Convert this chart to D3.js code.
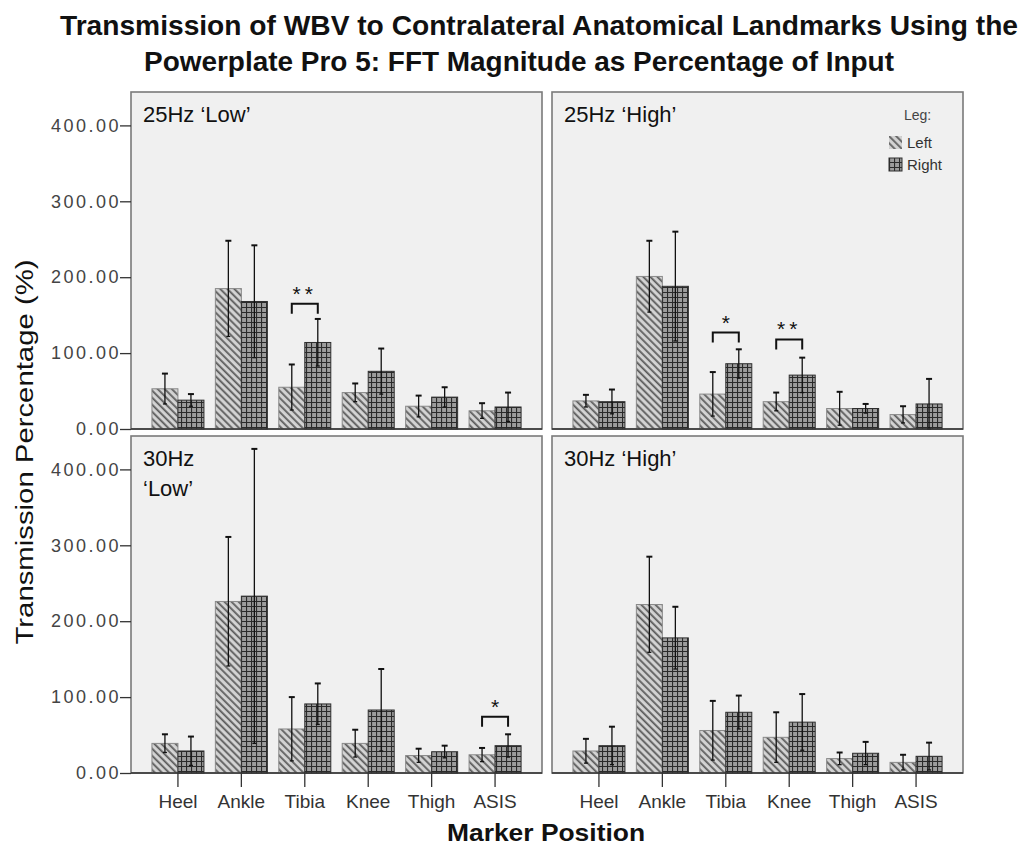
<!DOCTYPE html>
<html>
<head>
<meta charset="utf-8">
<script src="https://cdn.jsdelivr.net/npm/d3@7"></script>
<style>
  body { margin: 0; background: #fff; }
  text { font-family: Arial, "Liberation Sans", sans-serif; }
</style>
</head>
<body>
<svg id="chart" width="1031" height="848"></svg>
<script>

// ---- data ----
const markers = ["Heel", "Ankle", "Tibia", "Knee", "Thigh", "ASIS"];
const panelNames = ["25Hz \u2018Low\u2019", "25Hz \u2018High\u2019", "30Hz\n\u2018Low\u2019", "30Hz \u2018High\u2019"];
const yTicks = [0, 100, 200, 300, 400];

const low25Left      = [53, 185, 55, 48, 30, 24];
const low25LeftErr   = [20, 63, 30, 12, 14, 10];
const low25Right     = [38, 168, 114, 76, 42, 29];
const low25RightErr  = [8, 74, 31, 30, 13, 19];

const high25Left     = [37, 201, 46, 36, 27, 19];
const high25LeftErr  = [8, 47, 29, 12, 22, 11];
const high25Right    = [36, 188, 86, 71, 27, 33];
const high25RightErr = [16, 72, 19, 23, 6, 33];

const low30Left      = [39, 226, 58, 39, 23, 24];
const low30LeftErr   = [12, 85, 42, 18, 9, 9];
const low30Right     = [29, 233, 91, 83, 28, 36];
const low30RightErr  = [19, 194, 27, 54, 8, 15];

const high30Left     = [29, 222, 56, 47, 19, 14];
const high30LeftErr  = [16, 63, 39, 33, 8, 10];
const high30Right    = [36, 178, 80, 67, 26, 22];
const high30RightErr = [25, 41, 22, 37, 15, 18];

// significance brackets
const sigPanel  = [0, 1, 1, 2];
const sigMarker = ["Tibia", "Tibia", "Knee", "ASIS"];
const sigLabel  = ["**", "*", "**", "*"];
const sigLevel  = [165, 127, 118, 74];

const panelData = [
  {left: low25Left,  leftErr: low25LeftErr,  right: low25Right,  rightErr: low25RightErr},
  {left: high25Left, leftErr: high25LeftErr, right: high25Right, rightErr: high25RightErr},
  {left: low30Left,  leftErr: low30LeftErr,  right: low30Right,  rightErr: low30RightErr},
  {left: high30Left, leftErr: high30LeftErr, right: high30Right, rightErr: high30RightErr}
];

// ---- layout ----
const svg = d3.select("#chart");
const colX = [131, 552];
const rowY = [92, 436];
const pw = 411, ph = 337;
const yMax = 444;

const defs = svg.append("defs");

// left leg: diagonal hatch
const pl = defs.append("pattern")
    .attr("id", "hatchLeft")
    .attr("patternUnits", "userSpaceOnUse")
    .attr("width", 5).attr("height", 5)
    .attr("patternTransform", "rotate(45)");
pl.append("rect").attr("width", 5).attr("height", 5).attr("fill", "#d4d4d4");
pl.append("line").attr("x1", 0).attr("x2", 5).attr("y1", 1.2).attr("y2", 1.2)
    .attr("stroke", "#5a5a5a").attr("stroke-width", 1.8);

// right leg: cross hatch
const pr = defs.append("pattern")
    .attr("id", "hatchRight")
    .attr("patternUnits", "userSpaceOnUse")
    .attr("width", 5).attr("height", 5);
pr.append("rect").attr("width", 5).attr("height", 5).attr("fill", "#9c9c9c");
pr.append("path").attr("d", "M0,0.5H5M0.5,0V5")
    .attr("stroke", "#2a2a2a").attr("stroke-width", 1.2);

// title
svg.append("text")
    .attr("x", 60).attr("y", 35)
    .attr("font-size", 27).attr("font-weight", "bold").attr("fill", "#111")
    .attr("textLength", 958).attr("lengthAdjust", "spacingAndGlyphs")
    .text("Transmission of WBV to Contralateral Anatomical Landmarks Using the");
svg.append("text")
    .attr("x", 144).attr("y", 71)
    .attr("font-size", 27).attr("font-weight", "bold").attr("fill", "#111")
    .attr("textLength", 750).attr("lengthAdjust", "spacingAndGlyphs")
    .text("Powerplate Pro 5: FFT Magnitude as Percentage of Input");

// axis titles
svg.append("text")
    .attr("transform", "translate(33,452) rotate(-90)")
    .attr("text-anchor", "middle")
    .attr("font-size", 23).attr("fill", "#111")
    .attr("textLength", 385).attr("lengthAdjust", "spacingAndGlyphs")
    .text("Transmission Percentage (%)");

svg.append("text")
    .attr("x", 546).attr("y", 841)
    .attr("text-anchor", "middle")
    .attr("font-size", 23).attr("font-weight", "bold").attr("fill", "#111")
    .attr("textLength", 198).attr("lengthAdjust", "spacingAndGlyphs")
    .text("Marker Position");

const x = d3.scaleBand().domain(markers).range([0, pw]).paddingInner(0.18).paddingOuter(0.33);
const xs = d3.scaleBand().domain(["Left", "Right"]).range([0, x.bandwidth()]);
const y = d3.scaleLinear().domain([0, yMax]).range([ph, 0]);

panelData.forEach((pd, p) => {
  const col = p % 2, row = Math.floor(p / 2);
  const g = svg.append("g").attr("transform", `translate(${colX[col]},${rowY[row]})`);

  g.append("rect")
    .attr("width", pw).attr("height", ph)
    .attr("fill", "#f0f0f0").attr("stroke", "#7a7a7a").attr("stroke-width", 1.6);

  // panel label
  const lines = panelNames[p].split("\n");
  lines.forEach((t, i) => {
    g.append("text")
      .attr("x", 12).attr("y", 30 + i * 30)
      .attr("font-size", 22).attr("fill", "#111")
      .text(t);
  });

  // bars
  const rows = markers.map((m, i) => [
    {m, side: "Left", v: pd.left[i], e: pd.leftErr[i]},
    {m, side: "Right", v: pd.right[i], e: pd.rightErr[i]}
  ]).flat();

  g.selectAll(".bar")
    .data(rows)
    .enter()
    .append("rect")
    .attr("class", "bar")
    .attr("x", d => x(d.m) + xs(d.side))
    .attr("width", xs.bandwidth())
    .attr("y", d => y(d.v))
    .attr("height", d => ph - y(d.v))
    .attr("fill", d => d.side == "Left" ? "url(#hatchLeft)" : "url(#hatchRight)")
    .attr("stroke", d => d.side == "Left" ? "#8a8a8a" : "#2e2e2e")
    .attr("stroke-width", 1);

  // error bars
  const eb = g.selectAll(".err")
    .data(rows)
    .enter()
    .append("g")
    .attr("class", "err")
    .attr("transform", d => `translate(${x(d.m) + xs(d.side) + xs.bandwidth() / 2},0)`)
    .attr("stroke", "#111").attr("stroke-width", 1.3);
  eb.append("line")
    .attr("y1", d => y(d.v + d.e)).attr("y2", d => y(Math.max(0, d.v - d.e)));
  eb.append("line")
    .attr("x1", -3).attr("x2", 3)
    .attr("y1", d => y(d.v + d.e)).attr("y2", d => y(d.v + d.e)).attr("stroke-width", 2);
  eb.append("line")
    .attr("x1", -2).attr("x2", 2)
    .attr("y1", d => y(Math.max(0, d.v - d.e))).attr("y2", d => y(Math.max(0, d.v - d.e)));

  // bottom axis line
  g.append("line").attr("x1", 0).attr("x2", pw).attr("y1", ph).attr("y2", ph)
    .attr("stroke", "#333").attr("stroke-width", 1.6);

  // y axis on left column
  if (col == 0) {
    const ya = g.append("g")
      .call(d3.axisLeft(y).tickValues(yTicks).tickFormat(d3.format(".2f")).tickSize(11).tickPadding(2));
    ya.select(".domain").remove();
    ya.selectAll("line").attr("stroke", "#333").attr("stroke-width", 1.3);
    ya.selectAll("text")
      .attr("font-size", 18).attr("fill", "#444")
      .attr("letter-spacing", "2.5px").attr("dx", 3)
      .style("font-family", "Arial, 'Liberation Sans', sans-serif");
  }

  // x axis on bottom row
  if (row == 1) {
    const xa = g.append("g")
      .attr("transform", `translate(0,${ph})`)
      .call(d3.axisBottom(x).tickSize(14).tickPadding(8));
    xa.select(".domain").remove();
    xa.selectAll("line").attr("stroke", "#333").attr("stroke-width", 1.3);
    xa.selectAll("text")
      .attr("font-size", 19).attr("fill", "#333")
      .style("font-family", "Arial, 'Liberation Sans', sans-serif");
  }

  // significance brackets
  sigPanel.forEach((sp, k) => {
    if (sp != p) return;
    const xl = x(sigMarker[k]) + xs("Left") + xs.bandwidth() / 2;
    const xr = x(sigMarker[k]) + xs("Right") + xs.bandwidth() / 2;
    const yb = y(sigLevel[k]);
    g.append("path")
      .attr("d", `M${xl},${yb + 10}V${yb}H${xr}V${yb + 10}`)
      .attr("fill", "none").attr("stroke", "#111").attr("stroke-width", 2);
    g.append("text")
      .attr("x", (xl + xr) / 2).attr("y", yb - 3)
      .attr("text-anchor", "middle")
      .attr("font-size", 21).attr("fill", "#111")
      .attr("letter-spacing", sigLabel[k].length > 1 ? "4px" : "0px")
      .text(sigLabel[k]);
  });

  // legend in top-right panel
  if (p == 1) {
    const lg = g.append("g").attr("transform", `translate(${pw - 74},0)`);
    lg.append("text").attr("x", 15).attr("y", 28)
      .attr("font-size", 14).attr("fill", "#444").text("Leg:");
    const items = ["Left", "Right"];
    items.forEach((it, i) => {
      lg.append("rect")
        .attr("x", 0).attr("y", 44 + i * 22)
        .attr("width", 13).attr("height", 13)
        .attr("fill", it == "Left" ? "url(#hatchLeft)" : "url(#hatchRight)")
        .attr("stroke", it == "Left" ? "none" : "#2e2e2e");
      lg.append("text")
        .attr("x", 18).attr("y", 56 + i * 22)
        .attr("font-size", 15).attr("fill", "#333").text(it);
    });
  }
});

</script>
</body>
</html>
